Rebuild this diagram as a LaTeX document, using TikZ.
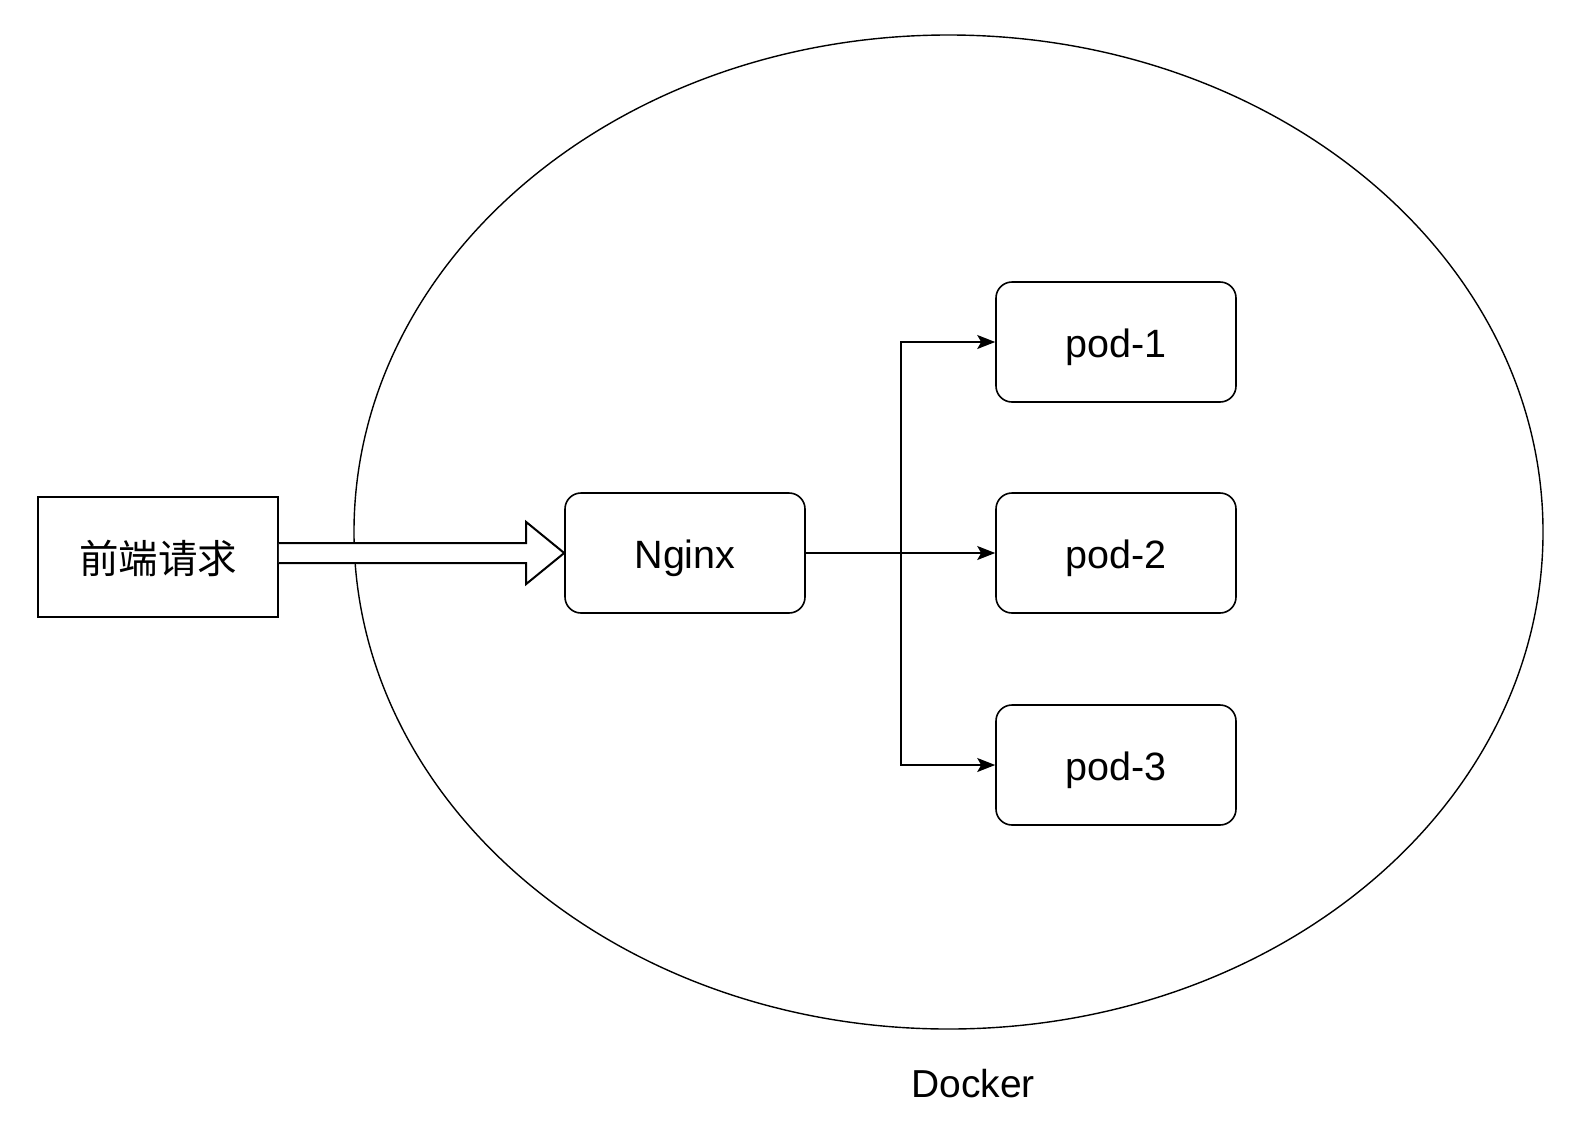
\documentclass[tikz,border=0pt]{standalone}
\usepackage{fontspec}
\setmainfont{Liberation Sans}
\newfontfamily\cjk{Noto Sans CJK SC}
\usetikzlibrary{arrows.meta,calc,shapes.geometric}
\begin{document}
\begin{tikzpicture}[x=1bp,y=-1bp,
  boxstyle/.style={draw,line width=1.6bp,minimum width=240bp,minimum height=120bp,inner sep=0pt,text height=30bp,text depth=0pt,font=\fontsize{39.5bp}{42bp}\selectfont},
  rbox/.style={boxstyle,rounded corners=16bp},
  conn/.style={line width=1.6bp,-{Stealth[length=18bp,width=14bp,inset=4bp]}}]
\useasboundingbox (0,0) rectangle (1572,1126);
\node[draw,line width=1.4bp,ellipse,minimum width=1189bp,minimum height=994bp,inner sep=0pt] (docker) at (948.5,532) {};
\node[font=\fontsize{39bp}{42bp}\selectfont,text height=32bp,text depth=0pt,inner sep=0pt] (dlabel) at (973,1081) {Docker};
\node[boxstyle,text height=33bp,font=\fontsize{39.5bp}{42bp}\cjk] (req) at (158,557) {前端请求};
\node[rbox] (ng) at (685,553) {Nginx};
\node[rbox] (p1) at (1116,342) {pod-1};
\node[rbox] (p2) at (1116,553) {pod-2};
\node[rbox] (p3) at (1116,765) {pod-3};
\coordinate (split) at (901,553);
\coordinate (tail) at (req.east |- ng.west);
\draw[line width=2bp,fill=white,line join=miter]
  ($(tail)+(0,-10)$) -- ($(ng.west)+(-38,-10)$) -- ($(ng.west)+(-38,-31)$) -- (ng.west)
  -- ($(ng.west)+(-38,31)$) -- ($(ng.west)+(-38,10)$) -- ($(tail)+(0,10)$);
\draw[conn] (ng.east) -- (p2.west);
\draw[conn] (split) |- (p1.west);
\draw[conn] (split) |- (p3.west);
\end{tikzpicture}
\end{document}
